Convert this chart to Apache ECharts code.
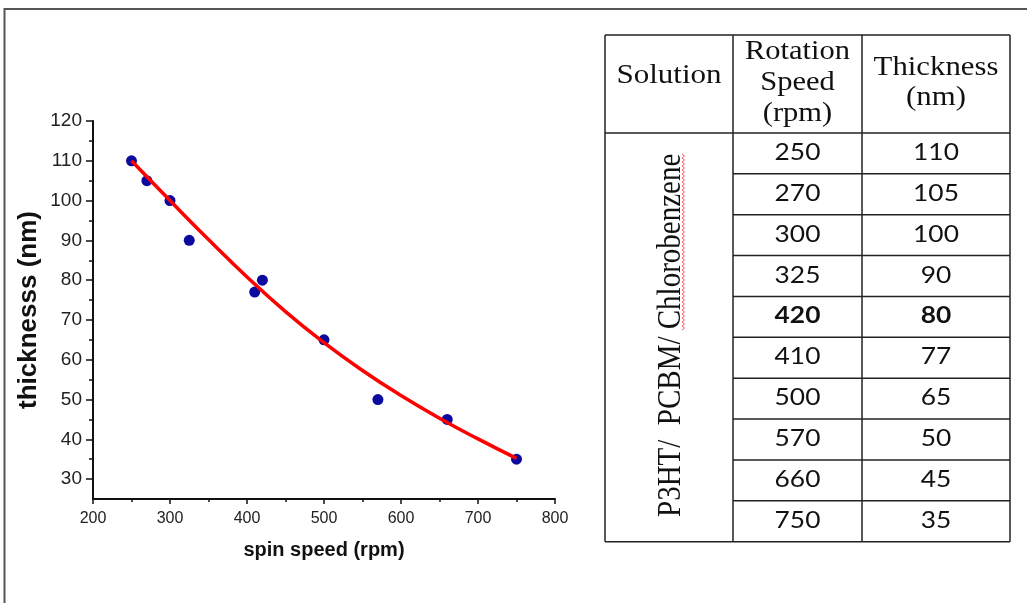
<!DOCTYPE html>
<html>
<head>
<meta charset="utf-8">
<script src="https://cdn.jsdelivr.net/npm/echarts@6/dist/echarts.min.js"></script>
<style>
  html, body { margin: 0; padding: 0; background: #ffffff; }
  #chart { width: 1027px; height: 603px; }
</style>
</head>
<body>
<div id="chart"></div>
<script>
// Spin-coating series: P3HT/PCBM in chlorobenzene (table order)
const rotationSpeed = [250, 270, 300, 325, 420, 410, 500, 570, 660, 750];
const filmThickness = [110, 105, 100, 90, 80, 77, 65, 50, 45, 35];
const boldRow = 4;

// Fitted decay curve, sampled every 50 rpm
const fitSpeed = [250, 300, 350, 400, 450, 500, 550, 600, 650, 700, 750];
const fitThickness = [110, 100.0, 90.2, 80.8, 72.1, 64.3, 57.3, 51.0, 45.3, 40.1, 35.2];

// Axis ticks
const yMajorTicks = [30, 40, 50, 60, 70, 80, 90, 100, 110, 120];
const yMinorTicks = [35, 45, 55, 65, 75, 85, 95, 105, 115];
const xRange = [200, 800];
const yRange = [25, 120];

// Table text
const solutionLabel = 'P3HT/  PCBM/ Chlorobenzene';
const headSolution = ['Solution'];
const headSpeed = ['Rotation', 'Speed', '(rpm)'];
const headThickness = ['Thickness', '(nm)'];

const chart = echarts.init(document.getElementById('chart'), null, { renderer: 'canvas' });

// ---- table drawn with graphic elements ----
const tbl = { cols: [605, 733, 862, 1010], top: 35, headBottom: 133, rowH: 40.87 };
const stretch = 1.17;
const serif = '"Liberation Serif", "Times New Roman", serif';
const sans = 'Lato, "Open Sans", sans-serif';
const ink = '#111111';
const rule = { stroke: '#222222', lineWidth: 1.5 };
const tableBottom = tbl.headBottom + tbl.rowH * rotationSpeed.length;

const g = [];
// outer frame around the figure
g.push({ type: 'rect', shape: { x: 4.5, y: 9, width: 1200, height: 800 },
  style: { fill: 'none', stroke: '#555555', lineWidth: 2 }, silent: true });

function line(x1, y1, x2, y2) {
  g.push({ type: 'line', shape: { x1, y1, x2, y2 }, style: rule, silent: true });
}
function text(str, x, y, font, opts) {
  g.push(Object.assign({ type: 'text', x, y, scaleX: stretch,
    style: { text: str, x: 0, y: 0, font, fill: ink, align: 'center', verticalAlign: 'middle' },
    silent: true, z: 10 }, opts || {}));
}

// borders
line(tbl.cols[0], tbl.top, tbl.cols[3], tbl.top);
line(tbl.cols[0], tableBottom, tbl.cols[3], tableBottom);
tbl.cols.forEach(c => line(c, tbl.top, c, tableBottom));
line(tbl.cols[0], tbl.headBottom, tbl.cols[3], tbl.headBottom);
for (let i = 1; i < rotationSpeed.length; i++) {
  const y = tbl.headBottom + tbl.rowH * i;
  line(tbl.cols[1], y, tbl.cols[3], y);
}

const cx = [(tbl.cols[0] + tbl.cols[1]) / 2, (tbl.cols[1] + tbl.cols[2]) / 2, (tbl.cols[2] + tbl.cols[3]) / 2];
const headFont = '27px ' + serif;
text(headSolution[0], cx[0], 75.5, headFont, { scaleX: 1.15 });
[52, 83, 113.5].forEach((y, i) => text(headSpeed[i], cx[1], y, headFont, { scaleX: 1.13 }));
[68, 98].forEach((y, i) => text(headThickness[i], cx[2], y, headFont, { scaleX: 1.14 }));

rotationSpeed.forEach((s, i) => {
  const y = tbl.headBottom + tbl.rowH * (i + 0.5) - 1;
  const w = i === boldRow ? 'bold ' : '';
  text(String(s), cx[1], y, w + '23.5px ' + sans, { scaleX: 1.12 });
  text(String(filmThickness[i]), cx[2], y, w + '23.5px ' + sans, { scaleX: 1.12 });
});

// merged solution cell, text reading bottom to top
const bodyMid = (tbl.headBottom + tableBottom) / 2;
g.push({ type: 'text', x: 671, y: bodyMid - 2, rotation: Math.PI / 2, scaleX: 1, scaleY: stretch,
  style: { text: solutionLabel, x: 0, y: 0, font: '29px ' + serif, fill: ink, align: 'center', verticalAlign: 'middle' },
  silent: true, z: 10 });

// spell-check squiggle beside the solvent name
const squig = [];
for (let y = 154, k = 0; y <= 330; y += 2, k++) squig.push([k % 2 ? 684.5 : 682, y]);
g.push({ type: 'polyline', shape: { points: squig },
  style: { stroke: '#e84a4a', lineWidth: 0.9, fill: 'none' }, silent: true, z: 11 });

// ---- scatter plot with fitted curve ----
const labelFont = '"Liberation Sans", Arial, sans-serif';
const option = {
  animation: false,
  backgroundColor: '#ffffff',
  grid: { left: 93, right: 472, top: 121, bottom: 104, containLabel: false },
  xAxis: {
    type: 'value', min: xRange[0], max: xRange[1], interval: 100,
    name: 'spin speed (rpm)', nameLocation: 'middle', nameGap: 41,
    nameTextStyle: { fontFamily: labelFont, fontSize: 20, fontWeight: 'bold', color: '#111' },
    axisLine: { show: true, onZero: false, lineStyle: { color: '#111', width: 2 } },
    axisTick: { show: true, length: 5, lineStyle: { color: '#111', width: 1.5 } },
    minorTick: { show: true, splitNumber: 2, length: 3, lineStyle: { color: '#111', width: 1.5 } },
    axisLabel: { margin: 12, fontFamily: labelFont, fontSize: 16, color: '#222' },
    splitLine: { show: false }
  },
  yAxis: [
    {
      type: 'value', min: yRange[0], max: yRange[1],
      name: 'thicknesss (nm)', nameLocation: 'middle', nameRotate: 90, nameGap: 51,
      nameTextStyle: { fontFamily: labelFont, fontSize: 26, fontWeight: 'bold', color: '#111' },
      axisLine: { show: true, onZero: false, lineStyle: { color: '#111', width: 2 } },
      axisTick: { show: true, length: 7, customValues: yMajorTicks, lineStyle: { color: '#111', width: 1.5 } },
      axisLabel: { margin: 11, customValues: yMajorTicks, fontFamily: labelFont, fontSize: 19, color: '#222' },
      splitLine: { show: false }
    },
    {
      type: 'value', min: yRange[0], max: yRange[1], position: 'left', offset: 0,
      axisLine: { show: false },
      axisTick: { show: true, length: 4, customValues: yMinorTicks, lineStyle: { color: '#111', width: 1.5 } },
      axisLabel: { show: false },
      splitLine: { show: false }
    }
  ],
  series: [
    {
      type: 'scatter', name: 'measured',
      data: rotationSpeed.map((s, i) => [s, filmThickness[i]]),
      symbol: 'circle', symbolSize: 11,
      itemStyle: { color: '#0a0a9e', opacity: 1 }, z: 2
    },
    {
      type: 'line', name: 'fit',
      data: fitSpeed.map((s, i) => [s, fitThickness[i]]),
      smooth: true, showSymbol: false, symbol: 'none',
      lineStyle: { color: '#ff0000', width: 3.5 }, z: 3
    }
  ],
  graphic: { elements: g }
};
chart.setOption(option);
</script>
</body>
</html>
